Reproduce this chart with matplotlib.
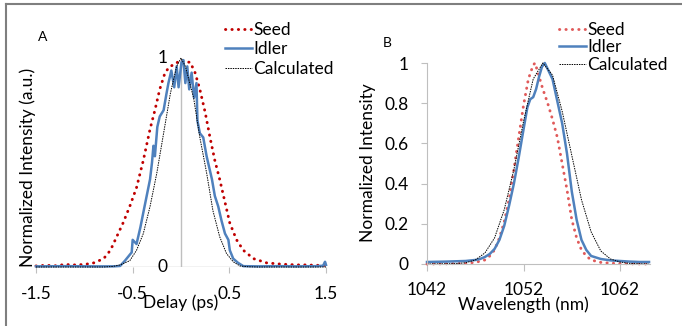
import numpy as np
import matplotlib
matplotlib.use("Agg")
import matplotlib.pyplot as plt
from matplotlib.lines import Line2D

plt.rcParams['font.family'] = ['Lato', 'DejaVu Sans']

# ---- panel A : autocorrelation vs delay ----
a_seed_x = [-1.5, -1.4, -1.3, -1.2, -1.1, -1.0, -0.9, -0.8, -0.73, -0.665, -0.6, -0.53, -0.46,
            -0.39, -0.32, -0.27, -0.22, -0.165, -0.115, -0.06, -0.01, 0.04, 0.095, 0.145,
            0.195, 0.25, 0.30, 0.35, 0.40, 0.455, 0.505, 0.575, 0.645, 0.75, 0.885, 1.0,
            1.1, 1.2, 1.3, 1.4, 1.5]
a_seed_y = [0.005, 0.008, 0.006, 0.012, 0.01, 0.012, 0.02, 0.04, 0.08, 0.145, 0.21, 0.29, 0.38,
            0.51, 0.66, 0.75, 0.85, 0.93, 0.96, 0.97, 0.99, 0.98, 0.98, 0.93,
            0.85, 0.74, 0.62, 0.51, 0.42, 0.31, 0.21, 0.13, 0.08, 0.04, 0.02, 0.015,
            0.012, 0.01, 0.01, 0.008, 0.008]

a_idler_x = [-1.5, -1.2, -0.9, -0.7, -0.63, -0.58, -0.545, -0.51, -0.50, -0.46, -0.42, -0.39,
             -0.355, -0.32, -0.30, -0.285, -0.27, -0.245, -0.22, -0.18, -0.15, -0.13, -0.10,
             -0.07, -0.045, -0.025, 0.005, 0.025, 0.045, 0.065, 0.085, 0.11, 0.135, 0.16,
             0.17, 0.195, 0.23, 0.265, 0.32, 0.35, 0.385, 0.42, 0.455, 0.49, 0.505, 0.54,
             0.59, 0.645, 0.8, 1.0, 1.2, 1.4, 1.47, 1.49, 1.5]
a_idler_y = [0.003, 0.004, 0.003, 0.003, 0.005, 0.03, 0.05, 0.07, 0.13, 0.11, 0.19, 0.26,
             0.34, 0.42, 0.50, 0.58, 0.53, 0.67, 0.72, 0.75, 0.83, 0.88, 0.94,
             0.86, 0.96, 0.86, 0.98, 0.99, 0.88, 0.96, 0.85, 0.93, 0.81, 0.88,
             0.70, 0.64, 0.62, 0.53, 0.42, 0.34, 0.29, 0.22, 0.16, 0.13, 0.08, 0.04,
             0.02, 0.004, 0.003, 0.004, 0.003, 0.004, 0.006, 0.025, 0.01]

a_calc_x = [-1.5, -0.8, -0.7, -0.63, -0.53, -0.46, -0.39, -0.32, -0.25, -0.18, -0.11, -0.045,
            0.0, 0.045, 0.13, 0.195, 0.265, 0.33, 0.40, 0.47, 0.54, 0.61, 0.7, 0.8, 1.5]
a_calc_y = [0.0, 0.0, 0.003, 0.01, 0.03, 0.08, 0.16, 0.29, 0.45, 0.64, 0.83, 0.96,
            1.0, 0.96, 0.81, 0.62, 0.45, 0.27, 0.145, 0.065, 0.025, 0.005, 0.001, 0.0, 0.0]

# ---- panel B : spectra ----
b_seed_x = [1042, 1044, 1046, 1047, 1048, 1048.5, 1049, 1049.5, 1050, 1050.5, 1051, 1051.5,
            1052, 1052.5, 1053, 1053.2, 1053.5, 1054, 1054.5, 1055, 1055.5, 1056, 1056.5,
            1057, 1057.5, 1058, 1058.5, 1059, 1060, 1061, 1062, 1063, 1065]
b_seed_y = [0.0, 0.001, 0.003, 0.008, 0.02, 0.04, 0.07, 0.13, 0.21, 0.32, 0.47, 0.63,
            0.79, 0.92, 0.99, 1.0, 0.95, 0.87, 0.80, 0.72, 0.63, 0.50, 0.37,
            0.22, 0.13, 0.07, 0.04, 0.02, 0.008, 0.004, 0.002, 0.001, 0.0]

b_idler_x = [1042, 1044, 1046, 1047, 1047.5, 1048, 1048.5, 1049, 1049.5, 1050, 1050.5, 1051,
             1051.5, 1052, 1052.4, 1052.7, 1053.0, 1053.3, 1053.6, 1053.9, 1054.2, 1054.5,
             1055, 1055.5, 1056, 1056.5, 1057, 1057.5, 1058, 1058.5, 1059, 1060, 1061,
             1062, 1063, 1064, 1065]
b_idler_y = [0.01, 0.012, 0.015, 0.02, 0.025, 0.035, 0.05, 0.075, 0.12, 0.19, 0.29, 0.40,
             0.53, 0.67, 0.78, 0.82, 0.83, 0.87, 0.93, 0.98, 1.0, 0.97,
             0.92, 0.81, 0.70, 0.55, 0.36, 0.22, 0.12, 0.07, 0.04, 0.025, 0.018,
             0.015, 0.012, 0.01, 0.01]

b_calc_x = [1042, 1045, 1046, 1047, 1048, 1049, 1050, 1051, 1052, 1053, 1054, 1055, 1056,
            1057, 1058, 1059, 1060, 1061, 1062, 1063, 1065]
b_calc_y = [0.0, 0.002, 0.006, 0.02, 0.055, 0.13, 0.27, 0.47, 0.71, 0.92, 1.0, 0.94, 0.76,
            0.54, 0.32, 0.16, 0.065, 0.025, 0.01, 0.003, 0.0]

labels = ['Seed', 'Idler', 'Calculated']
W, H = 682, 326
fs = 12.5
grey = '#bfbfbf'
blue = '#4f81bd'

fig = plt.figure(figsize=(W / 100, H / 100), dpi=100)

def px_axes(x0, x1, y0, y1):
    # x0,x1 left/right px; y0 = px of data bottom, y1 = px of data top
    return fig.add_axes([x0 / W, 1 - y0 / H, (x1 - x0) / W, (y0 - y1) / H])

dots = (0, (0.1, 2.1))

# panel A
ax = px_axes(36, 326, 267, 58)
ax.plot(a_seed_x, a_seed_y, color='#c00000', lw=2.1, linestyle=dots,
        dash_capstyle='round', clip_on=False, label=labels[0])
ax.plot(a_idler_x, a_idler_y, color=blue, lw=1.8, clip_on=False, label=labels[1])
ax.plot(a_calc_x, a_calc_y, color='black', lw=0.7, linestyle=(0, (1.5, 1)),
        clip_on=False, label=labels[2])
ax.set_xlim(-1.5, 1.5)
ax.set_ylim(0, 1)
for s in ax.spines.values():
    s.set_visible(False)
ax.axhline(0, color=grey, lw=1, zorder=0)
ax.axvline(0, color=grey, lw=1, zorder=0)
ax.set_xticks([-1.5, -0.5, 0.5, 1.5])
ax.set_xticklabels(['-1.5', '-0.5', '0.5', '1.5'])
ax.tick_params(axis='x', length=4, color=grey, pad=10, labelsize=fs)
ax.set_yticks([])
ax.text(-0.14, 1.0, '1', ha='right', va='center', fontsize=fs)
ax.text(-0.14, 0.0, '0', ha='right', va='center', fontsize=fs)
ax.patch.set_visible(False)
fig.text(181 / W, 1 - 303 / H, 'Delay (ps)', ha='center', va='center', fontsize=fs)
fig.text(28 / W, 1 - 167 / H, 'Normalized Intensity (a.u.)', ha='center', va='center',
         rotation=90, fontsize=fs)
fig.text(43 / W, 1 - 37 / H, 'A', ha='center', va='center', fontsize=10)
ax.legend(loc='upper left', bbox_to_anchor=(216 / W, 1 - 13 / H),
          bbox_transform=fig.transFigure, frameon=False, fontsize=fs,
          handlelength=1.55, handletextpad=0.1, labelspacing=0.2, borderpad=0)

# panel B
bx = px_axes(427, 650, 264, 63)
bx.plot(b_seed_x, b_seed_y, color='#e05a5a', lw=2.1, linestyle=dots,
        dash_capstyle='round', clip_on=False, label=labels[0])
bx.plot(b_idler_x, b_idler_y, color=blue, lw=1.8, clip_on=False, label=labels[1])
bx.plot(b_calc_x, b_calc_y, color='black', lw=0.7, linestyle=(0, (1.5, 1)),
        clip_on=False, label=labels[2])
bx.set_xlim(1042, 1065.1)
bx.set_ylim(0, 1)
for k, s in bx.spines.items():
    s.set_visible(k in ('left', 'bottom'))
    s.set_color(grey)
bx.set_xticks([1042, 1052, 1062])
bx.set_yticks([0, 0.2, 0.4, 0.6, 0.8, 1.0])
bx.set_yticklabels(['0', '0.2', '0.4', '0.6', '0.8', '1'])
bx.tick_params(axis='x', length=5, color=grey, pad=8, labelsize=fs)
bx.tick_params(axis='y', length=4, color=grey, pad=9, labelsize=fs)
bx.patch.set_visible(False)
fig.text(523 / W, 1 - 305 / H, 'Wavelength (nm)', ha='center', va='center', fontsize=fs)
fig.text(368 / W, 1 - 163 / H, 'Normalized Intensity', ha='center', va='center',
         rotation=90, fontsize=fs)
fig.text(387 / W, 1 - 43 / H, 'B', ha='center', va='center', fontsize=10)
bx.legend(loc='upper left', bbox_to_anchor=(550 / W, 1 - 13 / H),
          bbox_transform=fig.transFigure, frameon=False, fontsize=fs,
          handlelength=1.55, handletextpad=0.1, labelspacing=0.1, borderpad=0)

# outer frame (top and left only)
fig.add_artist(Line2D([6 / W, 1], [1 - 4 / H, 1 - 4 / H], transform=fig.transFigure,
                      color='#7f7f7f', lw=1.5))
fig.add_artist(Line2D([6 / W, 6 / W], [0, 1 - 4 / H], transform=fig.transFigure,
                      color='#7f7f7f', lw=1.5))

fig.savefig('out.png', dpi=100)
